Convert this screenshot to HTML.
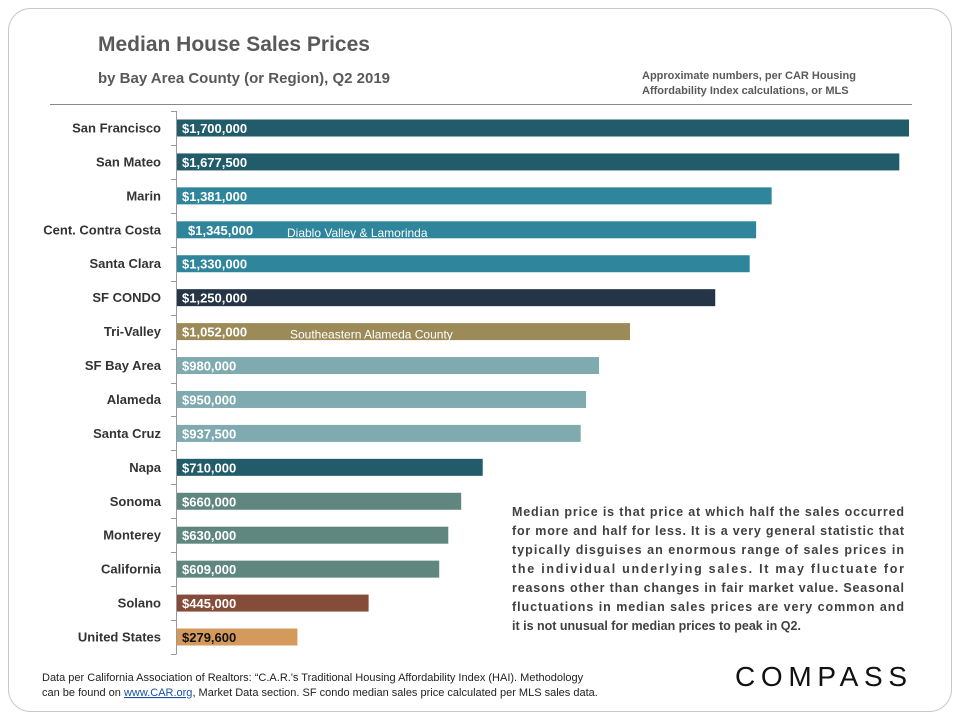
<!DOCTYPE html>
<html><head><meta charset="utf-8"><style>
body{margin:0;background:#fff;}
svg{display:block;font-family:"Liberation Sans",sans-serif;}
</style></head><body>
<svg id="chart" width="960" height="720" viewBox="0 0 960 720">
<rect x="8.5" y="8.5" width="943" height="703" rx="22" fill="#fff" stroke="#c8c8c8"/>
<text x="98" y="51" font-size="21" font-weight="bold" fill="#595959">Median House Sales Prices</text>
<text x="98" y="83" font-size="15" font-weight="bold" fill="#595959">by Bay Area County (or Region), Q2 2019</text>
<text x="642" y="79" font-size="11" font-weight="bold" fill="#595959">Approximate numbers, per CAR Housing</text>
<text x="642" y="94" font-size="11" font-weight="bold" fill="#595959">Affordability Index calculations,  or MLS</text>
<line x1="50" y1="104.5" x2="912" y2="104.5" stroke="#888"/>
<g id="bars"></g>
<g font-size="12.5" font-weight="bold" fill="#404040">
<text x="512" y="516" textLength="392">Median price is that price at which half the sales occurred</text>
<text x="512" y="535" textLength="392">for more and half for less. It is a very general statistic that</text>
<text x="512" y="554" textLength="392">typically disguises an enormous range of sales prices in</text>
<text x="512" y="573" textLength="392">the individual underlying sales. It may fluctuate for</text>
<text x="512" y="592" textLength="392">reasons other than changes in fair market value. Seasonal</text>
<text x="512" y="611" textLength="392">fluctuations in median sales prices are very common and</text>
<text x="512" y="630">it is not unusual for median prices to peak in Q2.</text>
</g>
<text x="42" y="681" font-size="11" fill="#222">Data per California Association of Realtors: “C.A.R.'s Traditional Housing Affordability Index (HAI). Methodology</text>
<text x="42" y="696" font-size="11" fill="#222">can be found on <tspan fill="#1a4fa0" text-decoration="underline">www.CAR.org</tspan>,  Market Data section. SF condo median sales price calculated per MLS sales data.</text>
<text x="735" y="686" font-size="28" fill="#111" textLength="172" lengthAdjust="spacing">COMPASS</text>
</svg>
<script>
const categories=["San Francisco","San Mateo","Marin","Cent. Contra Costa","Santa Clara","SF CONDO","Tri-Valley","SF Bay Area","Alameda","Santa Cruz","Napa","Sonoma","Monterey","California","Solano","United States"];
const values=[1700000,1677500,1381000,1345000,1330000,1250000,1052000,980000,950000,937500,710000,660000,630000,609000,445000,279600];
const valueLabels=["$1,700,000","$1,677,500","$1,381,000","$1,345,000","$1,330,000","$1,250,000","$1,052,000","$980,000","$950,000","$937,500","$710,000","$660,000","$630,000","$609,000","$445,000","$279,600"];
const colors=["#225b69","#225b69","#2f869c","#2f869c","#2f869c","#253446","#9c8b58","#7eaab0","#7eaab0","#7eaab0","#225b69","#5f877f","#5f877f","#5f877f","#864c3a","#d49a5c"];
const notes={3:"Diablo Valley & Lamorinda",6:"Southeastern Alameda County"};
const NS="http://www.w3.org/2000/svg";
const x0=177,xScale=v=>x0+v*(732/1700000);
const yTop=128,step=(637-128)/15,yScale=i=>yTop+i*step;
const g=document.getElementById('bars');
function mk(t,a){const e=document.createElementNS(NS,t);for(const k in a)e.setAttribute(k,a[k]);g.appendChild(e);return e;}
const ax=mk('line',{x1:176.5,y1:yScale(0)-step/2,x2:176.5,y2:yScale(15)+step/2,stroke:'#999'});


for(let i=0;i<=16;i++){const y=Math.round(yScale(i)-step/2)+0.5;const t=mk('line',{x1:171,y1:y,x2:176.5,y2:y,stroke:'#999'});

}
categories.forEach((c,i)=>{
const y=yScale(i);
const r=mk('rect',{x:x0,y:y-8.5,width:xScale(values[i])-x0,height:17,fill:colors[i]});


const l=mk('text',{x:161,y:y+4.5,'text-anchor':'end','font-size':13,'font-weight':'bold',fill:'#333'});l.textContent=c;


const v=mk('text',{x:i==3?188:182,y:y+5,'font-size':13,'font-weight':'bold',fill:i==15?'#111':'#fff'});v.textContent=valueLabels[i];


if(notes[i]){const n=mk('text',{x:i==3?287:290,y:y+7,'font-size':12,fill:'#fff'});n.textContent=notes[i];

}
});
</script>
</body></html>
